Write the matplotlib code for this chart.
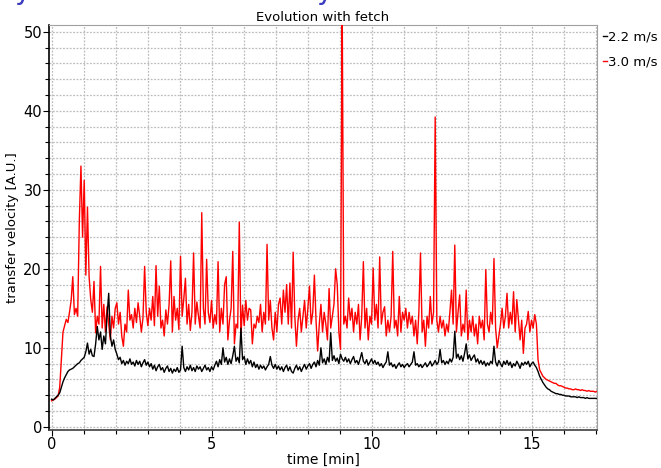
import numpy as np
import matplotlib
matplotlib.use("Agg")
import matplotlib.pyplot as plt
from matplotlib.ticker import MultipleLocator
from matplotlib.lines import Line2D

# transfer velocity, 3.0 m/s wind (red), one row per minute
r0 = [3.3, 3.4, 3.5, 3.7, 3.9, 5.0, 8.5, 12.0, 12.8, 13.6, 13.2, 14.5, 16.0, 19.0, 14.2, 15.0, 14.0, 26.0, 33.0, 24.0]
r1 = [31.2, 19.2, 27.8, 19.0, 16.1, 14.5, 18.4, 11.9, 14.0, 13.0, 20.3, 12.5, 15.5, 12.0, 15.2, 13.0, 11.0, 14.0, 12.5, 15.0]
r2 = [15.7, 13.0, 14.5, 11.5, 10.2, 13.0, 12.0, 17.3, 13.5, 14.2, 12.5, 15.0, 13.2, 15.7, 14.0, 12.0, 13.8, 20.3, 14.5, 12.8]
r3 = [15.0, 13.5, 16.5, 12.8, 20.4, 14.0, 17.8, 12.5, 13.5, 11.5, 14.8, 13.0, 15.5, 21.0, 12.0, 16.5, 13.5, 15.0, 12.3, 21.6]
r4 = [14.0, 16.2, 18.8, 13.0, 15.5, 12.2, 14.5, 22.0, 13.0, 15.8, 14.0, 12.5, 27.1, 15.0, 13.0, 21.2, 14.5, 13.2, 16.0, 12.5]
r5 = [14.2, 13.0, 20.9, 12.0, 15.0, 13.0, 18.0, 19.0, 11.0, 13.5, 15.0, 22.2, 10.5, 13.0, 12.5, 25.9, 11.5, 15.4, 12.8, 16.0]
r6 = [13.5, 15.0, 14.8, 10.5, 13.0, 12.5, 14.0, 13.2, 15.5, 12.0, 14.5, 13.0, 23.1, 13.5, 16.0, 12.5, 11.0, 14.5, 12.0, 15.5]
r7 = [16.3, 13.0, 17.3, 14.5, 18.0, 13.0, 18.2, 12.5, 22.1, 14.0, 10.2, 13.5, 15.0, 12.0, 14.0, 16.0, 12.5, 15.0, 17.8, 13.0]
r8 = [14.5, 19.2, 13.5, 9.6, 13.0, 15.5, 12.0, 14.5, 13.0, 11.0, 17.5, 12.5, 14.0, 15.5, 20.0, 18.0, 12.0, 9.8, 55.0, 13.0]
r9 = [14.0, 12.5, 16.3, 13.5, 15.0, 12.0, 14.5, 13.0, 15.5, 11.0, 14.0, 20.9, 12.5, 15.0, 11.0, 14.0, 13.0, 20.1, 13.5, 15.5]
r10 = [12.5, 21.5, 13.0, 14.5, 15.2, 11.5, 13.5, 12.0, 14.0, 22.2, 12.5, 13.5, 11.5, 16.5, 12.0, 14.5, 13.5, 15.0, 12.5, 14.5]
r11 = [13.0, 14.0, 11.5, 13.5, 10.5, 14.5, 22.0, 12.0, 13.5, 10.2, 14.0, 12.5, 16.5, 13.0, 14.5, 39.2, 13.5, 12.0, 14.0, 12.5]
r12 = [13.5, 11.5, 13.0, 12.0, 14.5, 17.3, 13.0, 23.0, 12.0, 14.5, 16.7, 11.5, 13.0, 12.0, 17.3, 11.0, 13.5, 12.0, 14.0, 11.5]
r13 = [13.0, 10.5, 14.0, 12.5, 13.5, 11.0, 19.9, 13.0, 12.0, 14.5, 13.0, 21.3, 12.5, 10.0, 11.5, 13.0, 15.0, 12.5, 14.0, 16.9]
r14 = [12.5, 14.5, 13.0, 17.1, 12.0, 16.1, 13.5, 11.0, 13.5, 9.3, 12.5, 13.0, 14.6, 12.0, 13.5, 12.5, 14.2, 13.0, 8.5, 7.2]
r15 = [6.8, 6.4, 6.2, 6.0, 5.9, 5.8, 5.7, 5.6, 5.5, 5.5, 5.3, 5.2, 5.2, 5.1, 5.0, 4.9, 4.9, 4.8, 4.8, 4.7]
r16 = [4.7, 4.8, 4.7, 4.7, 4.6, 4.7, 4.6, 4.6, 4.5, 4.6, 4.5, 4.5, 4.5, 4.4, 4.5]

# transfer velocity, 2.2 m/s wind (black)
b0 = [3.5, 3.4, 3.6, 3.8, 4.0, 4.3, 5.0, 5.7, 6.2, 6.6, 7.0, 7.2, 7.3, 7.4, 7.6, 7.8, 8.0, 8.1, 8.4, 8.6]
b1 = [8.8, 9.5, 10.6, 9.2, 9.8, 9.0, 8.9, 10.5, 12.7, 11.0, 12.0, 9.8, 11.5, 10.5, 14.0, 16.9, 11.5, 10.2, 11.0, 9.8]
b2 = [9.2, 8.5, 8.8, 8.0, 8.4, 7.8, 8.3, 8.0, 8.6, 7.9, 8.2, 7.7, 8.4, 7.9, 8.3, 7.6, 8.1, 8.5, 7.8, 8.2]
b3 = [7.6, 8.0, 7.3, 7.8, 7.1, 7.6, 7.9, 7.2, 7.5, 6.9, 7.4, 7.7, 7.0, 7.4, 6.8, 7.3, 7.0, 7.5, 6.9, 7.2]
b4 = [10.2, 7.5, 7.0, 7.6, 7.2, 7.8, 7.1, 7.5, 7.0, 7.7, 7.3, 7.6, 7.0, 7.4, 7.8, 7.2, 7.5, 7.0, 7.6, 7.2]
b5 = [7.8, 8.3, 7.6, 8.5, 7.9, 10.0, 8.2, 8.8, 7.9, 8.6, 8.0, 9.0, 10.2, 8.3, 8.8, 8.1, 12.5, 8.5, 8.9, 7.9]
b6 = [8.6, 8.0, 8.4, 7.6, 8.2, 7.5, 7.9, 7.3, 7.8, 7.4, 7.7, 7.2, 7.6, 7.9, 8.9, 7.8, 7.4, 7.9, 7.3, 7.7]
b7 = [7.2, 7.6, 7.0, 7.5, 7.8, 7.1, 7.6, 7.0, 6.8, 7.4, 7.8, 7.2, 7.6, 7.0, 7.5, 7.9, 7.3, 7.7, 8.0, 7.4]
b8 = [7.9, 8.2, 7.6, 8.4, 7.8, 10.0, 8.1, 8.6, 7.9, 8.8, 8.2, 11.9, 8.4, 9.0, 8.3, 8.7, 8.0, 9.2, 8.6, 8.3]
b9 = [8.8, 8.2, 8.6, 8.0, 8.5, 8.9, 8.1, 8.4, 7.9, 8.6, 9.4, 8.3, 8.0, 8.5, 7.8, 8.2, 8.6, 8.0, 8.4, 7.9]
b10 = [8.2, 7.7, 8.0, 7.5, 7.9, 8.2, 9.5, 7.8, 8.1, 7.6, 7.9, 7.4, 7.8, 8.1, 7.6, 7.9, 7.5, 7.8, 8.0, 7.6]
b11 = [7.9, 8.2, 9.5, 7.8, 8.0, 7.6, 7.9, 7.5, 7.8, 8.1, 7.6, 7.9, 8.3, 7.7, 8.0, 8.4, 7.9, 8.2, 9.8, 8.1]
b12 = [8.4, 7.9, 8.3, 8.0, 8.6, 8.2, 8.8, 12.1, 8.7, 9.2, 8.5, 9.0, 8.3, 9.3, 10.5, 8.6, 9.1, 8.4, 8.8, 9.1]
b13 = [8.2, 8.6, 8.0, 8.4, 7.9, 8.3, 7.7, 8.1, 7.8, 8.3, 8.0, 10.2, 8.2, 7.7, 8.4, 8.0, 7.6, 8.3, 7.9, 8.4]
b14 = [7.8, 8.2, 7.5, 8.0, 7.7, 8.3, 7.9, 7.4, 8.1, 7.8, 8.2, 7.9, 8.3, 7.6, 8.0, 8.2, 7.8, 7.5, 7.0, 6.4]
b15 = [6.0, 5.6, 5.3, 5.0, 4.8, 4.7, 4.5, 4.4, 4.3, 4.2, 4.2, 4.1, 4.1, 4.0, 4.0, 3.9, 3.9, 3.9, 3.8, 3.8]
b16 = [3.8, 3.8, 3.7, 3.8, 3.7, 3.7, 3.7, 3.6, 3.7, 3.6, 3.6, 3.6, 3.6, 3.6, 3.6]

red_30 = r0 + r1 + r2 + r3 + r4 + r5 + r6 + r7 + r8 + r9 + r10 + r11 + r12 + r13 + r14 + r15 + r16
black_22 = b0 + b1 + b2 + b3 + b4 + b5 + b6 + b7 + b8 + b9 + b10 + b11 + b12 + b13 + b14 + b15 + b16
dt = 0.051  # sampling step [min]
t = np.arange(len(red_30)) * dt

fig = plt.figure(figsize=(6.61, 4.68), dpi=100)
ax = fig.add_axes([49 / 661, 1 - 430 / 468, 548 / 661, 405 / 468])

ax.plot(t, red_30, color="#ff0000", lw=1.0, zorder=3)
ax.plot(t, black_22, color="black", lw=1.0, zorder=4)

ax.set_xlim(-0.08, 17.04)
ax.set_ylim(-0.4, 50.85)
ax.xaxis.set_major_locator(MultipleLocator(5))
ax.xaxis.set_minor_locator(MultipleLocator(1))
ax.yaxis.set_major_locator(MultipleLocator(10))
ax.yaxis.set_minor_locator(MultipleLocator(2))
ax.grid(which="both", color="#bdbdbd", linestyle=(0, (1.5, 1.2)), linewidth=0.9)
ax.set_axisbelow(True)

for s in ["top", "right"]:
    ax.spines[s].set_color("#a0a0a0")
ax.spines["left"].set_color("black")
ax.spines["left"].set_linewidth(1.2)
ax.spines["bottom"].set_color("#404040")
ax.spines["bottom"].set_linewidth(1.2)
ax.tick_params(which="major", length=4, width=0.8, labelsize=10.5, pad=1)
ax.tick_params(which="minor", length=3, width=0.8)

ax.set_title("Evolution with fetch", fontsize=9.5, pad=3)
ax.set_xlabel("time [min]", fontsize=10, labelpad=1)
ax.set_ylabel("transfer velocity [A.U.]", fontsize=9.5, labelpad=3)

handles = [Line2D([], [], color="black", lw=1), Line2D([], [], color="#ff0000", lw=1)]
ax.legend(handles, ["2.2 m/s", "3.0 m/s"], loc="upper left", bbox_to_anchor=(1.0, 1.0),
          frameon=False, fontsize=9.5, handlelength=0.3, handletextpad=0.1,
          borderaxespad=0.3, borderpad=0.15, labelspacing=0.85)

# cut-off slide heading above the chart
fig.text(0.022, 1.003, "y", color="#3a3ac0", fontsize=20, va="baseline")
fig.text(0.478, 1.003, "y", color="#3a3ac0", fontsize=20, va="baseline")

fig.savefig("out.png", dpi=100)
